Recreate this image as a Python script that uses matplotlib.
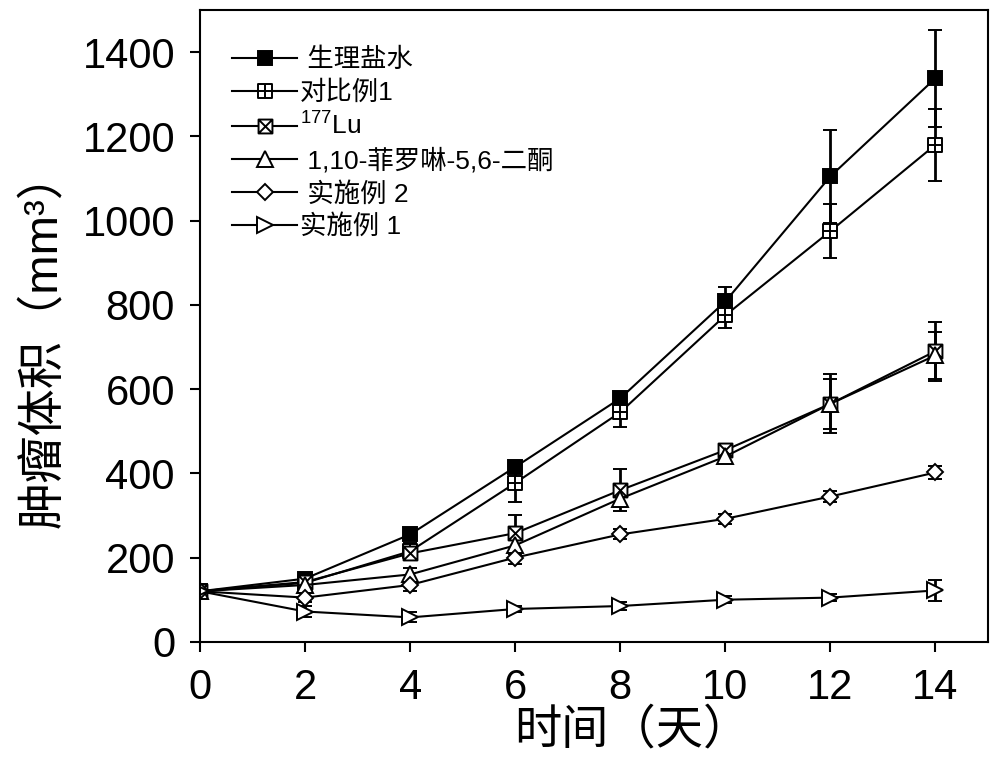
import numpy as np
import matplotlib
matplotlib.use('Agg')
import matplotlib.pyplot as plt
from matplotlib.path import Path

plt.rcParams['font.family'] = ['Liberation Sans', 'Noto Sans CJK SC']
plt.rcParams['mathtext.fontset'] = 'custom'
plt.rcParams['mathtext.rm'] = 'Liberation Sans'
plt.rcParams['mathtext.default'] = 'regular'

# days and tumour volumes (mm^3)
days = [0, 2, 4, 6, 8, 10, 12, 14]
saline = [120, 150, 255, 415, 578, 808, 1105, 1338]
saline_err = [10, 10, 12, 10, 12, 35, 110, 115]
comp1 = [120, 140, 215, 377, 545, 775, 975, 1180]
comp1_err = [10, 10, 20, 45, 35, 30, 65, 85]
lu177 = [120, 142, 210, 258, 360, 455, 565, 690]
lu177_err = [10, 8, 15, 42, 50, 10, 60, 70]
phen = [120, 135, 160, 229, 340, 440, 565, 680]
phen_err = [10, 8, 15, 20, 20, 10, 70, 55]
ex2 = [120, 105, 135, 200, 255, 292, 345, 402]
ex2_err = [15, 10, 15, 15, 12, 12, 12, 15]
ex1 = [120, 72, 58, 78, 85, 100, 105, 122]
ex1_err = [12, 12, 12, 8, 10, 8, 8, 25]

labels = [' 生理盐水', '对比例1', r'$^{177}$Lu', ' 1,10-菲罗啉-5,6-二酮', ' 实施例 2', '实施例 1']

# square with a cross inside, and square with an X inside
M, L, C = Path.MOVETO, Path.LINETO, Path.CLOSEPOLY
sq = [(-1, -1), (1, -1), (1, 1), (-1, 1), (-1, -1)]
sq_codes = [M, L, L, L, C]
plus_box = Path(sq + [(0, -1), (0, 1), (-1, 0), (1, 0)], sq_codes + [M, L, M, L])
x_box = Path(sq + [(-1, -1), (1, 1), (-1, 1), (1, -1)], sq_codes + [M, L, M, L])

series = [
    (saline, saline_err, 's', 'black', 10),
    (comp1, comp1_err, plus_box, 'white', 10),
    (lu177, lu177_err, x_box, 'white', 10),
    (phen, phen_err, '^', 'white', 11),
    (ex2, ex2_err, 'D', 'white', 8),
    (ex1, ex1_err, '>', 'white', 11),
]

fig = plt.figure(figsize=(10, 7.65), dpi=100)
ax = fig.add_axes([0.2, 0.161, 0.788, 0.826])

handles = []
for (y, e, mk, fc, ms), lab in zip(series, labels):
    eb = ax.errorbar(days, y, yerr=e, color='black', lw=1.5, marker=mk, ms=ms,
                     mfc=fc, mec='black', mew=1.4, capsize=5, capthick=2,
                     elinewidth=2, label=lab)
    handles.append(eb[0])

ax.set_xlim(0, 15)
ax.set_ylim(0, 1500)
ax.set_xticks(np.arange(0, 15, 2))
ax.set_yticks(np.arange(0, 1401, 200))
ax.tick_params(direction='out', length=7, width=1.5, labelsize=30)
ax.tick_params(axis='y', pad=11)
ax.tick_params(axis='x', pad=12)
for s in ax.spines.values():
    s.set_linewidth(1.5)

ax.set_xlabel('时间（天）', fontsize=34)
ax.set_ylabel('肿瘤体积（mm³）', fontsize=34)
ax.xaxis.set_label_coords(0.549, -0.106)
ax.yaxis.set_label_coords(-0.17, 0.48)

ax.legend(handles, labels, loc='upper left', bbox_to_anchor=(0.04, 0.94),
          frameon=False, fontsize=19, handlelength=2.5, handletextpad=0.1,
          labelspacing=0.3, borderpad=0, borderaxespad=0)

fig.savefig('out.png', dpi=100)
